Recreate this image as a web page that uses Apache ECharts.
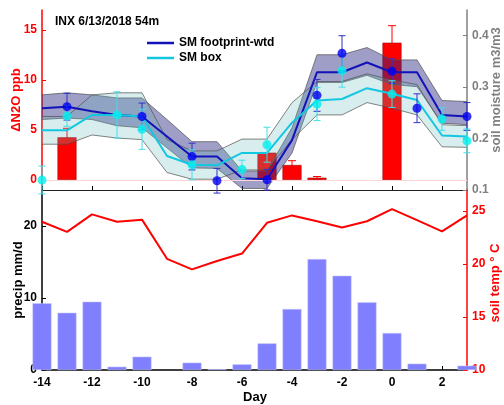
<!DOCTYPE html>
<html>
<head>
<meta charset="utf-8">
<script src="https://cdn.jsdelivr.net/npm/echarts@6.0.0/dist/echarts.min.js"></script>
<style>
  html, body { margin: 0; padding: 0; background: #fff; }
  #chart { width: 504px; height: 405px; }
</style>
</head>
<body>
<div id="chart"></div>
<script>
// ---------- data ----------
const days = [-14, -13, -12, -11, -10, -9, -8, -7, -6, -5, -4, -3, -2, -1, 0, 1, 2, 3];

// soil moisture, footprint-weighted (line + band)
const smFootLine  = [0.259, 0.262, 0.253, 0.246, 0.243, 0.204, 0.165, 0.165, 0.123, 0.121, 0.197, 0.329, 0.329, 0.348, 0.329, 0.329, 0.246, 0.243];
const smFootUpper = [0.285, 0.289, 0.285, 0.279, 0.279, 0.237, 0.194, 0.194, 0.137, 0.137, 0.221, 0.363, 0.363, 0.377, 0.353, 0.353, 0.274, 0.272];
const smFootLower = [0.237, 0.240, 0.237, 0.225, 0.221, 0.182, 0.143, 0.142, 0.103, 0.103, 0.172, 0.309, 0.309, 0.323, 0.305, 0.301, 0.230, 0.227];

// soil moisture, box (line + band)
const smBoxLine  = [0.216, 0.216, 0.246, 0.246, 0.243, 0.166, 0.149, 0.148, 0.172, 0.172, 0.231, 0.274, 0.277, 0.298, 0.287, 0.275, 0.206, 0.204];
const smBoxUpper = [0.243, 0.243, 0.285, 0.289, 0.289, 0.198, 0.176, 0.176, 0.199, 0.199, 0.270, 0.311, 0.311, 0.326, 0.314, 0.305, 0.227, 0.225];
const smBoxLower = [0.189, 0.189, 0.207, 0.201, 0.198, 0.134, 0.121, 0.121, 0.139, 0.139, 0.198, 0.246, 0.246, 0.270, 0.259, 0.246, 0.184, 0.183];

// measured points with error bars
const footDays = [-13, -10, -8, -7, -5, -3, -2, 0, 1, 3];
const footVals = [0.262, 0.243, 0.165, 0.118, 0.120, 0.284, 0.366, 0.331, 0.259, 0.243];
const footErr  = [0.026, 0.026, 0.026, 0.024, 0.020, 0.031, 0.034, 0.024, 0.028, 0.027];

const boxDays = [-14, -13, -11, -10, -8, -6, -5, -3, -2, 0, 2, 3];
const boxVals = [0.1195, 0.244, 0.246, 0.218, 0.149, 0.140, 0.188, 0.267, 0.332, 0.2865, 0.238, 0.1955];
const boxErr  = [0.027, 0.020, 0.045, 0.039, 0.029, 0.018, 0.034, 0.032, 0.032, 0.026, 0.022, 0.023];

// delta N2O bars
const n2oDays = [-13, -5, -4, -3, 0];
const n2oVals = [4.27, 2.73, 1.5, 0.23, 13.73];
const n2oErr  = [0.9, 0, 0.43, 0.12, 1.7];

// precipitation bars
const precipDays = [-14, -13, -12, -11, -10, -8, -7, -6, -5, -4, -3, -2, -1, 0, 1, 3];
const precipVals = [9.26, 7.96, 9.49, 0.46, 1.85, 1.02, 0.1, 0.79, 3.7, 8.47, 15.4, 13.1, 9.4, 5.14, 0.88, 0.6];

// soil temperature
const tempVals = [24.0, 23.05, 24.7, 24.0, 24.2, 20.5, 19.5, 20.3, 21.0, 23.9, 24.6, 24.05, 23.45, 24.05, 25.2, 24.15, 23.1, 24.6];

// tick labels
const dayTicks    = [-14, -12, -10, -8, -6, -4, -2, 0, 2];
const n2oTicks    = [0, 5, 10, 15];
const smTicks     = [0.1, 0.2, 0.3, 0.4];
const precipTicks = [0, 10, 20];
const tempTicks   = [10, 15, 20, 25];

// ---------- helpers ----------
const FONT = 'Liberation Sans, Arial, Helvetica, sans-serif';
const pairs = (xs, ys) => xs.map((x, i) => [x, ys[i]]);
const triples = (xs, ys, es) => xs.map((x, i) => [x, ys[i], es[i]]);

function errRender(color, cap) {
  return function (params, api) {
    const x = api.value(0), y = api.value(1), e = api.value(2);
    if (!e) return null;
    const p1 = api.coord([x, y + e]);
    const p2 = api.coord([x, y - e]);
    const style = { stroke: color, lineWidth: 1 };
    return {
      type: 'group',
      children: [
        { type: 'line', shape: { x1: p1[0], y1: p1[1], x2: p2[0], y2: p2[1] }, style },
        { type: 'line', shape: { x1: p1[0] - cap, y1: p1[1], x2: p1[0] + cap, y2: p1[1] }, style },
        { type: 'line', shape: { x1: p2[0] - cap, y1: p2[1], x2: p2[0] + cap, y2: p2[1] }, style }
      ]
    };
  };
}

// band polygon: drawn once, from all rows, through the axis scales
function bandRender(fill, edge) {
  return function (params, api) {
    if (params.dataIndexInside !== 0) return null;
    const n = params.dataInsideLength;
    const top = [], bot = [];
    for (let i = 0; i < n; i++) {
      const x = api.value(0, i);
      top.push(api.coord([x, api.value(2, i)]));
      bot.push(api.coord([x, api.value(1, i)]));
    }
    const poly = top.concat(bot.slice().reverse());
    const edgeStyle = { stroke: edge, lineWidth: 0.7, fill: null };
    return {
      type: 'group',
      children: [
        { type: 'polygon', shape: { points: poly }, style: { fill: fill, stroke: null } },
        { type: 'polyline', shape: { points: top }, style: edgeStyle },
        { type: 'polyline', shape: { points: bot }, style: edgeStyle }
      ]
    };
  };
}

const tickLabel = (color) => ({ color, fontWeight: 'bold', fontSize: 12, fontFamily: FONT });

const chart = echarts.init(document.getElementById('chart'), null, { renderer: 'canvas' });

const option = {
  animation: false,
  backgroundColor: '#ffffff',
  textStyle: { fontFamily: FONT },
  title: {
    text: 'INX 6/13/2018 54m',
    left: 55, top: 16, padding: 0,
    textStyle: { fontSize: 12, fontWeight: 'bold', color: '#000', fontFamily: FONT }
  },
  legend: {
    data: [
      { name: 'SM footprint-wtd', icon: 'rect' },
      { name: 'SM box', icon: 'rect' }
    ],
    orient: 'vertical',
    left: 147, top: 37, padding: 0,
    itemWidth: 27, itemHeight: 2.5, itemGap: 3,
    textStyle: { fontSize: 12, fontWeight: 'bold', color: '#000', fontFamily: FONT }
  },
  grid: [
    { left: 42, right: 37, top: 10, height: 180 },
    { left: 42, right: 37, top: 190, height: 180 }
  ],
  xAxis: [
    {
      gridIndex: 0, type: 'value', min: -14, max: 3, interval: 2,
      axisLine: { show: true, onZero: false, lineStyle: { color: '#222', width: 1 } },
      axisTick: { show: true, inside: true, length: 4, customValues: dayTicks, lineStyle: { color: '#000' } },
      axisLabel: { show: false },
      splitLine: { show: false }
    },
    {
      gridIndex: 1, type: 'value', min: -14, max: 3, interval: 2,
      axisLine: { show: true, onZero: false, lineStyle: { color: '#000', width: 1.5 } },
      axisTick: { show: true, inside: true, length: 4, customValues: dayTicks, lineStyle: { color: '#000' } },
      axisLabel: Object.assign(tickLabel('#000'), { margin: 7, customValues: dayTicks }),
      splitLine: { show: false }
    }
  ],
  yAxis: [
    { // N2O (top left)
      gridIndex: 0, type: 'value', min: -1, max: 17, splitNumber: 4, position: 'left',
      axisLine: { show: true, onZero: false, lineStyle: { color: '#ff0000', width: 1.5 } },
      axisTick: { show: true, inside: true, length: 4, customValues: n2oTicks, lineStyle: { color: '#ff0000' } },
      axisLabel: Object.assign(tickLabel('#ff0000'), { margin: 5, customValues: n2oTicks }),
      splitLine: { show: false }
    },
    { // soil moisture (top right)
      gridIndex: 0, type: 'value', min: 0.1, max: 0.45, splitNumber: 4, position: 'right',
      axisLine: { show: true, onZero: false, lineStyle: { color: '#808080', width: 1.5 } },
      axisTick: { show: true, inside: true, length: 4, customValues: smTicks, lineStyle: { color: '#808080' } },
      axisLabel: Object.assign(tickLabel('#808080'), { margin: 5, customValues: smTicks,
        formatter: v => v.toFixed(1) }),
      splitLine: { show: false }
    },
    { // precip (bottom left)
      gridIndex: 1, type: 'value', min: 0, max: 25, interval: 10, position: 'left',
      axisLine: { show: true, onZero: false, lineStyle: { color: '#000', width: 1.5 } },
      axisTick: { show: true, inside: true, length: 4, customValues: precipTicks, lineStyle: { color: '#000' } },
      axisLabel: Object.assign(tickLabel('#000'), { margin: 5, customValues: precipTicks }),
      splitLine: { show: false }
    },
    { // soil temp (bottom right)
      gridIndex: 1, type: 'value', min: 10, max: 27, interval: 5, position: 'right',
      axisLine: { show: true, onZero: false, lineStyle: { color: '#ff0000', width: 1.5 } },
      axisTick: { show: true, inside: true, length: 4, customValues: tempTicks, lineStyle: { color: '#ff0000' } },
      axisLabel: Object.assign(tickLabel('#ff0000'), { margin: 5, customValues: tempTicks }),
      splitLine: { show: false }
    }
  ],
  graphic: [
    { type: 'text', x: 16, y: 100, rotation: Math.PI / 2, z: 100,
      style: { text: 'ΔN2O ppb', align: 'center', verticalAlign: 'middle', fill: '#ff0000', font: 'bold 13px ' + FONT } },
    { type: 'text', x: 496, y: 90, rotation: Math.PI / 2, z: 100,
      style: { text: 'soil moisture m3/m3', align: 'center', verticalAlign: 'middle', fill: '#808080', font: 'bold 13px ' + FONT } },
    { type: 'text', x: 18, y: 280, rotation: Math.PI / 2, z: 100,
      style: { text: 'precip mm/d', align: 'center', verticalAlign: 'middle', fill: '#000', font: 'bold 13px ' + FONT } },
    { type: 'text', x: 495, y: 283, rotation: Math.PI / 2, z: 100,
      style: { text: 'soil temp ° C', align: 'center', verticalAlign: 'middle', fill: '#ff0000', font: 'bold 13px ' + FONT } },
    { type: 'text', x: 255, y: 397, z: 100,
      style: { text: 'Day', align: 'center', verticalAlign: 'middle', fill: '#000', font: 'bold 13px ' + FONT } }
  ],
  series: [
    // ---- top panel ----
    {
      name: 'dN2O', type: 'bar', xAxisIndex: 0, yAxisIndex: 0, z: 2, clip: true,
      barWidth: 19,
      data: pairs(n2oDays, n2oVals),
      itemStyle: { color: '#ff0000', borderColor: '#a00000', borderWidth: 0.6 },
      markLine: {
        silent: true, symbol: 'none', label: { show: false },
        lineStyle: { color: '#ffd4d4', type: 'solid', width: 1 },
        data: [{ yAxis: 0 }]
      }
    },
    {
      name: 'dN2O err', type: 'custom', xAxisIndex: 0, yAxisIndex: 0, z: 2,
      dimensions: ['x', 'y', 'e'], encode: { x: 0, y: 1 },
      renderItem: errRender('#ff0000', 4),
      data: triples(n2oDays, n2oVals, n2oErr)
    },
    {
      name: 'foot band', type: 'custom', xAxisIndex: 0, yAxisIndex: 1, z: 3,
      dimensions: ['x', 'lo', 'hi'], encode: { x: 0, y: [1, 2] },
      renderItem: bandRender('rgba(40,40,130,0.45)', '#505050'),
      data: days.map((d, i) => [d, smFootLower[i], smFootUpper[i]])
    },
    {
      name: 'box band', type: 'custom', xAxisIndex: 0, yAxisIndex: 1, z: 3,
      dimensions: ['x', 'lo', 'hi'], encode: { x: 0, y: [1, 2] },
      renderItem: bandRender('rgba(100,185,185,0.25)', '#505050'),
      data: days.map((d, i) => [d, smBoxLower[i], smBoxUpper[i]])
    },
    {
      name: 'SM footprint-wtd', type: 'line', xAxisIndex: 0, yAxisIndex: 1, z: 4,
      symbol: 'none', color: '#1212b8', lineStyle: { color: '#1212b8', width: 2 },
      data: pairs(days, smFootLine)
    },
    {
      name: 'SM box', type: 'line', xAxisIndex: 0, yAxisIndex: 1, z: 4,
      symbol: 'none', color: '#12c8e0', lineStyle: { color: '#12c8e0', width: 2 },
      data: pairs(days, smBoxLine)
    },
    {
      name: 'foot err', type: 'custom', xAxisIndex: 0, yAxisIndex: 1, z: 5,
      dimensions: ['x', 'y', 'e'], encode: { x: 0, y: 1 },
      renderItem: errRender('#3030c8', 3.5),
      data: triples(footDays, footVals, footErr)
    },
    {
      name: 'box err', type: 'custom', xAxisIndex: 0, yAxisIndex: 1, z: 5,
      dimensions: ['x', 'y', 'e'], encode: { x: 0, y: 1 },
      renderItem: errRender('#40e0e8', 3.5),
      data: triples(boxDays, boxVals, boxErr)
    },
    {
      name: 'foot pts', type: 'scatter', xAxisIndex: 0, yAxisIndex: 1, z: 6,
      symbol: 'circle', symbolSize: 9, itemStyle: { color: '#0000f0' },
      data: pairs(footDays, footVals)
    },
    {
      name: 'box pts', type: 'scatter', xAxisIndex: 0, yAxisIndex: 1, z: 6,
      symbol: 'circle', symbolSize: 9, itemStyle: { color: '#00f0f0' },
      data: pairs(boxDays, boxVals)
    },
    // ---- bottom panel ----
    {
      name: 'precip', type: 'bar', xAxisIndex: 1, yAxisIndex: 2, z: 2, clip: true,
      barWidth: 19,
      data: pairs(precipDays, precipVals),
      itemStyle: { color: '#8080ff', borderColor: '#c8c8ff', borderWidth: 0.5 }
    },
    {
      name: 'soil temp', type: 'line', xAxisIndex: 1, yAxisIndex: 3, z: 3,
      symbol: 'none', lineStyle: { color: '#ff0000', width: 2 },
      data: pairs(days, tempVals)
    }
  ]
};

chart.setOption(option);
</script>
</body>
</html>
